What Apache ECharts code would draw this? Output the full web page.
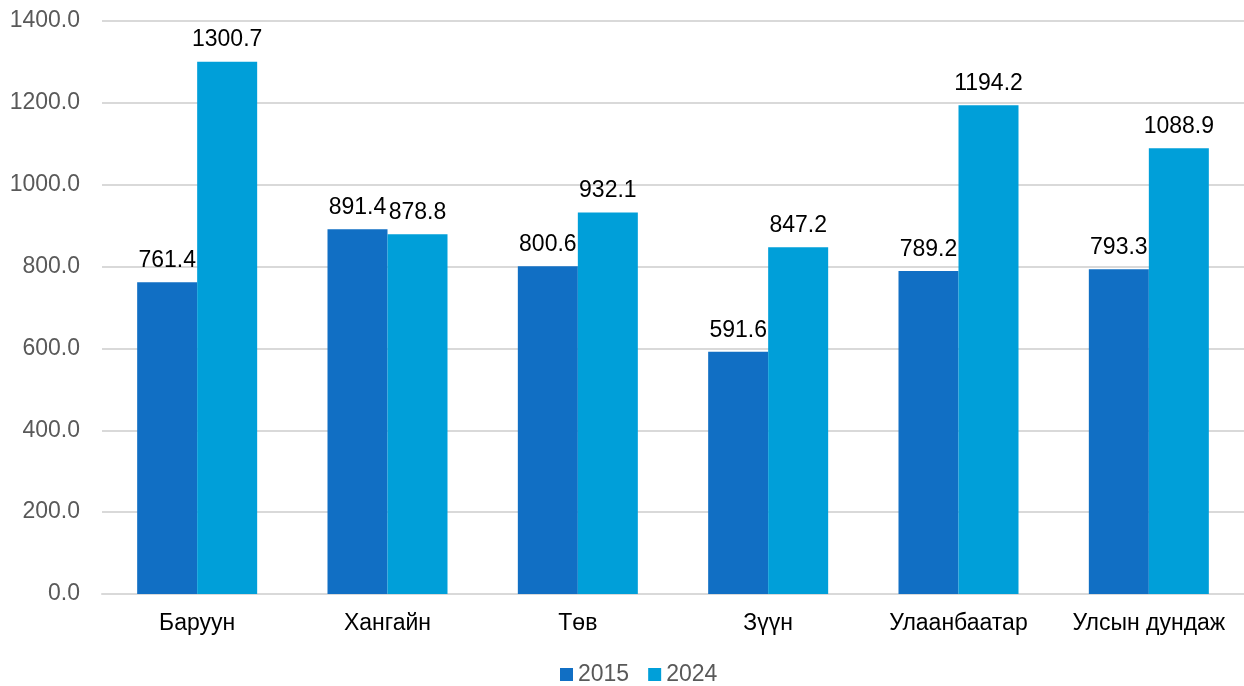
<!DOCTYPE html>
<html>
<head>
<meta charset="utf-8">
<script src="https://cdn.jsdelivr.net/npm/echarts@6/dist/echarts.min.js"></script>
<style>
  html, body { margin: 0; padding: 0; background: #fff; }
  #chart { width: 1244px; height: 686px; }
</style>
</head>
<body>
<div id="chart"></div>
<script>
  // Chart data
  const regions = ['Баруун', 'Хангайн', 'Төв', 'Зүүн', 'Улаанбаатар', 'Улсын дундаж'];
  const values2015 = [761.4, 891.4, 800.6, 591.6, 789.2, 793.3];
  const values2024 = [1300.7, 878.8, 932.1, 847.2, 1194.2, 1088.9];
  const yTicks = [0, 200, 400, 600, 800, 1000, 1200, 1400];

  const font = '"Liberation Sans", Arial, sans-serif';

  function barSeries(name, values, color) {
    return {
      name: name,
      type: 'bar',
      data: values,
      barWidth: 60,
      barGap: '0%',
      itemStyle: { color: color },
      label: {
        show: true,
        position: 'top',
        distance: 10,
        color: '#000',
        fontSize: 23,
        fontFamily: font,
        formatter: p => p.value.toFixed(1)
      }
    };
  }

  const option = {
    animation: false,
    backgroundColor: '#fff',
    grid: { left: 102, right: -2, top: 21, bottom: 92 },
    legend: {
      bottom: -5,
      left: 555,
      itemWidth: 13,
      itemHeight: 13,
      itemGap: 19,
      icon: 'rect',
      textStyle: { color: '#595959', fontSize: 23, fontFamily: font }
    },
    xAxis: {
      type: 'category',
      data: regions,
      axisTick: { show: false },
      axisLine: { lineStyle: { color: '#d9d9d9', width: 2 } },
      axisLabel: { color: '#000', fontSize: 23, fontFamily: font, margin: 18, interval: 0 }
    },
    yAxis: {
      type: 'value',
      min: yTicks[0],
      max: yTicks[yTicks.length - 1],
      interval: 200,
      axisLine: { show: false },
      axisTick: { show: false },
      splitLine: { lineStyle: { color: '#d9d9d9', width: 2 } },
      axisLabel: {
        color: '#595959', fontSize: 23, fontFamily: font, margin: 22,
        formatter: v => v.toFixed(1)
      }
    },
    series: [
      barSeries('2015', values2015, '#116fc4'),
      barSeries('2024', values2024, '#009fd9')
    ]
  };

  echarts.init(document.getElementById('chart')).setOption(option);
</script>
</body>
</html>
